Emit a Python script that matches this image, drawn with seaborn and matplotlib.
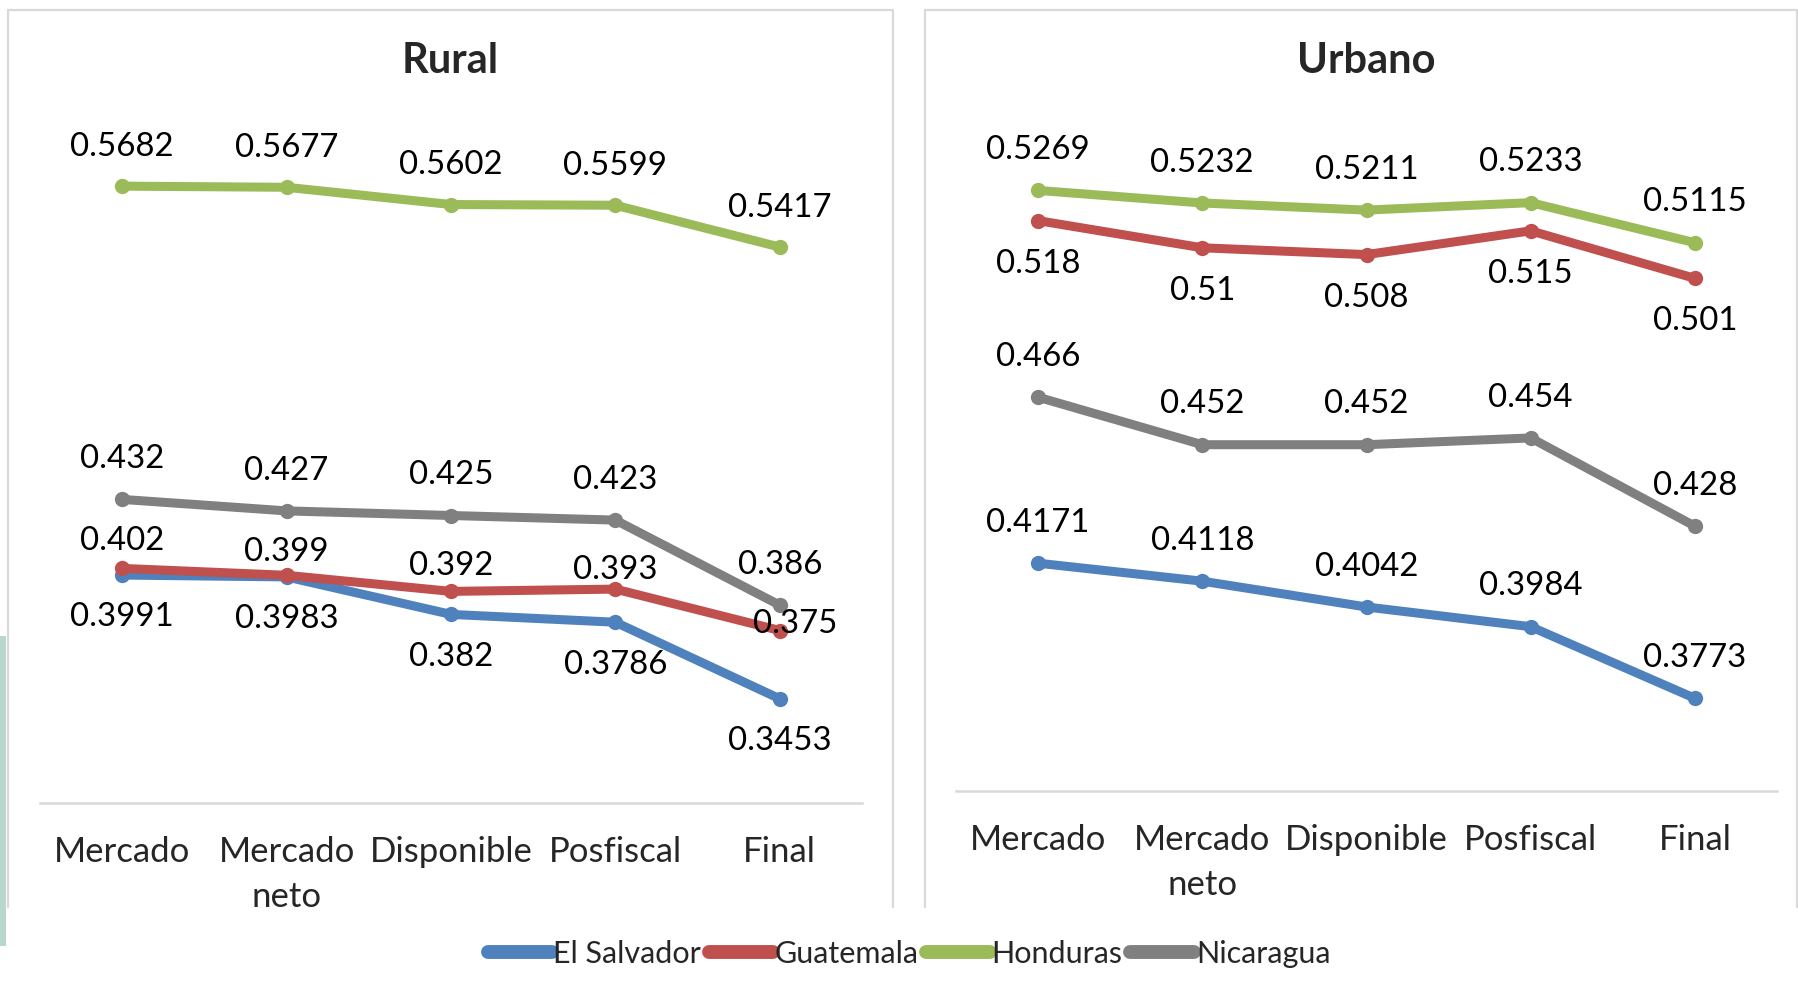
import matplotlib
matplotlib.use('Agg')
import matplotlib.pyplot as plt
from matplotlib.lines import Line2D
from matplotlib.patches import Rectangle
import seaborn as sns
import pandas as pd

etapas = ['Mercado', 'Mercado\nneto', 'Disponible', 'Posfiscal', 'Final']
paises = ['El Salvador', 'Guatemala', 'Honduras', 'Nicaragua']

rural_el_salvador = [0.3991, 0.3983, 0.382, 0.3786, 0.3453]
rural_guatemala = [0.402, 0.399, 0.392, 0.393, 0.375]
rural_honduras = [0.5682, 0.5677, 0.5602, 0.5599, 0.5417]
rural_nicaragua = [0.432, 0.427, 0.425, 0.423, 0.386]

urbano_el_salvador = [0.4171, 0.4118, 0.4042, 0.3984, 0.3773]
urbano_guatemala = [0.518, 0.51, 0.508, 0.515, 0.501]
urbano_honduras = [0.5269, 0.5232, 0.5211, 0.5233, 0.5115]
urbano_nicaragua = [0.466, 0.452, 0.452, 0.454, 0.428]

colores = ['#4f81bd', '#c0504d', '#9bbb59', '#808080']

# label offsets (points) per series, positive = above the point
dy_rural = [[-30.5] * 5, [19.8, 16.5, 18.2, 14, 5], [28.5] * 5, [29] * 5]
dx_rural = [[0] * 5, [0, 0, 0, 0, 11], [0] * 5, [0] * 5]
dy_urbano = [[29] * 5, [-31] * 5, [29] * 5, [29] * 5]
dx_urbano = [[0] * 5] * 4


def armar_df(series):
    filas = []
    for pais, vals in zip(paises, series):
        for et, v in zip(etapas, vals):
            filas.append({'etapa': et, 'gini': v, 'pais': pais})
    return pd.DataFrame(filas)


sns.set_style('white')
plt.rcParams['font.family'] = ['Lato', 'DejaVu Sans']

fig = plt.figure(figsize=(17.98, 9.9), dpi=100)
W, H = 1798, 990


def fx(x):
    return x / W


def fy(y):
    return 1 - y / H


ax1 = fig.add_axes([fx(40), fy(803), fx(862) - fx(40), fy(113) - fy(803)])
ax2 = fig.add_axes([fx(956), fy(791), fx(1777) - fx(956), fy(112) - fy(791)])

paneles = [
    (ax1, 'Rural', [rural_el_salvador, rural_guatemala, rural_honduras, rural_nicaragua],
     (0.30, 0.60), dy_rural, dx_rural),
    (ax2, 'Urbano', [urbano_el_salvador, urbano_guatemala, urbano_honduras, urbano_nicaragua],
     (0.35, 0.55), dy_urbano, dx_urbano),
]

for ax, titulo, series, ylim, dys, dxs in paneles:
    df = armar_df(series)
    sns.lineplot(data=df, x='etapa', y='gini', hue='pais', hue_order=paises,
                 palette=colores, marker='o', markersize=11, markeredgewidth=0,
                 linewidth=6.5, sort=False, legend=False, ax=ax)
    for i, vals in enumerate(series):
        for j, v in enumerate(vals):
            ax.annotate(str(v), (j, v), xytext=(dxs[i][j], dys[i][j]),
                        textcoords='offset points', ha='center', va='center',
                        fontsize=23.8, color='black')
    ax.set_ylim(*ylim)
    ax.set_xlim(-0.5, 4.5)
    ax.set_xlabel('')
    ax.set_ylabel('')
    ax.set_yticks([])
    ax.set_xticks(range(len(etapas)))
    ax.set_xticklabels(etapas, fontsize=25, linespacing=1.5)
    ax.tick_params(axis='x', length=0, pad=24)
    for s in ['top', 'left', 'right']:
        ax.spines[s].set_visible(False)
    ax.spines['bottom'].set_color('#d9d9d9')
    ax.spines['bottom'].set_linewidth(1.8)
    ax.set_facecolor('none')

fig.text(fx(450), fy(61), 'Rural', ha='center', va='center', fontsize=30, fontweight='bold')
fig.text(fx(1366), fy(61), 'Urbano', ha='center', va='center', fontsize=30, fontweight='bold')

# panel borders
borde = dict(color='#d9d9d9', linewidth=1.6, transform=fig.transFigure)
fig.add_artist(Line2D([fx(8), fx(8), fx(893), fx(893)], [fy(907), fy(10), fy(10), fy(907)], **borde))
fig.add_artist(Line2D([fx(925), fx(925), fx(1797), fx(1797)], [fy(907), fy(10), fy(10), fy(907)], **borde))
fig.add_artist(Rectangle((0, fy(946)), fx(6), fy(636) - fy(946), transform=fig.transFigure,
                         color='#b9d6cf', linewidth=0))

handles = [Line2D([0], [0], color=c, linewidth=10, solid_capstyle='round') for c in colores]
fig.legend(handles, paises, loc='center', bbox_to_anchor=(fx(909), fy(954)), ncol=4,
           frameon=False, fontsize=22, handlelength=2.1, handletextpad=0.05,
           columnspacing=0.25)

fig.savefig('out.png', dpi=100)
